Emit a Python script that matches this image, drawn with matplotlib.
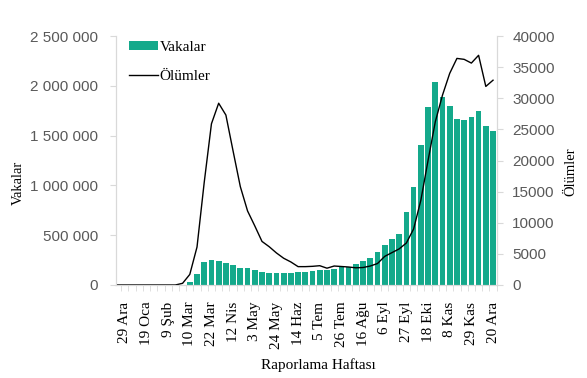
import numpy as np
import matplotlib
matplotlib.use("Agg")
import matplotlib.pyplot as plt
from matplotlib.patches import Patch
from matplotlib.lines import Line2D
from matplotlib.ticker import FuncFormatter, FixedLocator

# weekly data, 29 Ara 2019 -> 20 Ara 2020
tick_labels = ['29 Ara', '19 Oca', '9 Şub', '10 Mar', '22 Mar', '12 Nis', '3 May',
               '24 May', '14 Haz', '5 Tem', '26 Tem', '16 Ağu', '6 Eyl', '27 Eyl',
               '18 Eki', '8 Kas', '29 Kas', '20 Ara']

cases = [0, 0, 0, 0, 0, 0, 0, 0, 0,
         30000, 110000, 231000, 251000, 243000, 220000, 200000, 171000, 171000,
         151000, 127000, 119000, 119000, 119000, 119000, 128000, 133000, 138000,
         152000, 155000, 165000, 180000, 183000, 210000, 240000, 274000, 333000,
         402000, 462000, 514000, 733000, 987000, 1406000, 1784000, 2035000,
         1885000, 1797000, 1667000, 1657000, 1687000, 1750000, 1596000, 1549000]

# the deaths line starts one week earlier than the bars
deaths = [0, 0, 0, 0, 0, 0, 0, 0, 0,
          270, 1700, 6100, 16500, 25900, 29200, 27300, 21500, 15800, 11900,
          9500, 7000, 6150, 5150, 4300, 3700, 2950, 2950, 3000, 3100, 2700,
          3050, 2970, 2890, 2760, 2810, 3050, 3450, 4600, 5200, 5800, 6750,
          9000, 13600, 20000, 26200, 30500, 34000, 36400, 36250, 35650, 36900,
          31900, 32900]

bar_color = '#14A98B'
grey = '#595959'
spine_grey = '#D9D9D9'
serif = 'Liberation Serif'
sans = 'Liberation Sans'


def thousands(v, pos):
    return '{:,}'.format(int(v)).replace(',', ' ')


fig = plt.figure(figsize=(5.87, 3.78), dpi=100)
ax = fig.add_axes([116 / 587, 1 - 285 / 378, 381 / 587, 249 / 378])
ax2 = ax.twinx()

x = np.arange(len(cases))
ax.bar(x, cases, width=0.79, color=bar_color, zorder=2)
xd = np.arange(len(deaths)) - 1
ax2.plot(xd, deaths, color='black', lw=1.0)

ax.set_xlim(-1.22, 51.55)
ax.set_ylim(0, 2500000)
ax2.set_ylim(0, 40000)

ax.set_yticks(np.arange(0, 2500001, 500000))
ax.yaxis.set_major_formatter(FuncFormatter(thousands))
ax2.set_yticks(np.arange(0, 40001, 5000))

# labels every third week, tick marks on the week boundaries
ax.xaxis.set_major_locator(FixedLocator(np.arange(0, 52, 3)))
ax.set_xticklabels(tick_labels, rotation=90, family=serif, fontsize=11)
ax.xaxis.set_minor_locator(FixedLocator(np.arange(-0.5, 52, 1)))
ax.tick_params(axis='x', which='major', length=0, pad=12)
ax.tick_params(axis='x', which='minor', length=4, color=spine_grey)

ax.tick_params(axis='y', length=4, color=spine_grey, labelcolor=grey, pad=9)
ax2.tick_params(axis='y', length=4, color=spine_grey, labelcolor=grey, pad=7)
for lab in ax.get_yticklabels() + ax2.get_yticklabels():
    lab.set_family(sans)
    lab.set_fontsize(11)

for a in (ax, ax2):
    a.spines['top'].set_visible(False)
    for s in ('left', 'right', 'bottom'):
        a.spines[s].set_color(spine_grey)

ax.set_ylabel('Vakalar', family=serif, fontsize=10.5)
ax.yaxis.set_label_coords(-0.24, 0.41)
ax2.set_ylabel('Ölümler', family=serif, fontsize=10.5)
ax2.yaxis.set_label_coords(1.176, 0.456)
fig.text(318 / 587, 1 - 365 / 378, 'Raporlama Haftası', family=serif,
         fontsize=11, ha='center', va='center')

handles = [Patch(facecolor=bar_color, edgecolor='none'),
           Line2D([], [], color='black', lw=1.0)]
fig.legend(handles, ['Vakalar', 'Ölümler'], loc='upper left',
           bbox_to_anchor=(129 / 587, 1 - 41 / 378), frameon=False,
           prop={'family': serif, 'size': 11}, handlelength=1.9,
           handleheight=0.45, handletextpad=0.1, labelspacing=1.05,
           borderpad=0, borderaxespad=0)

fig.savefig('out.png', dpi=100)
